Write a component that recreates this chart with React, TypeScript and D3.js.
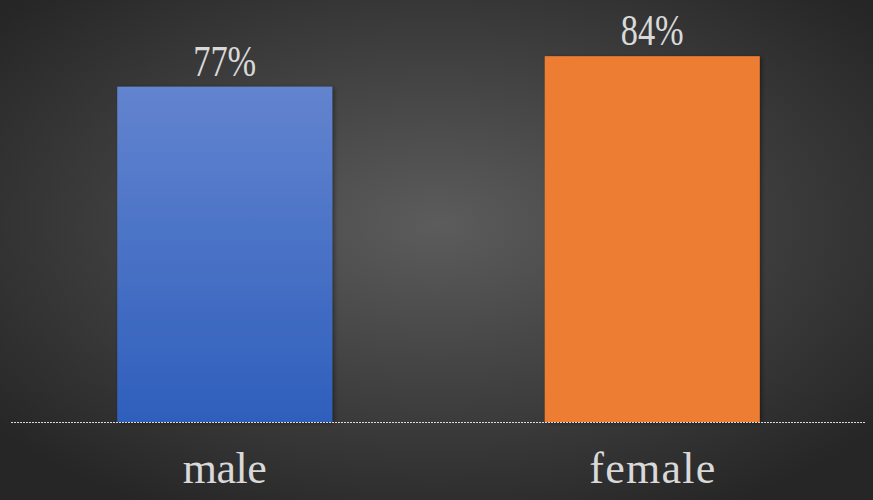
import React, { useRef, useEffect } from "react";
import * as d3 from "d3";

const categories = ["male", "female"];
const values = [0.77, 0.84];
const valueLabels = ["77%", "84%"];

const W = 873;
const H = 500;

const App = () => {
  const svgRef = useRef<SVGSVGElement>(null);

  useEffect(() => {
    const svg = d3.select(svgRef.current);
    svg.selectAll("*").remove();

    const baseY = 422;
    const x = d3
      .scaleBand<string>()
      .domain(categories)
      .range([11, 866])
      .paddingInner(0.497)
      .paddingOuter(0.2485);
    const y = d3.scaleLinear().domain([0, 1]).range([baseY, baseY - 435.5]);

    const defs = svg.append("defs");
    const bg = defs
      .append("radialGradient")
      .attr("id", "bg")
      .attr("cx", "50%")
      .attr("cy", "45%")
      .attr("r", "65%");
    bg.append("stop").attr("offset", "0%").attr("stop-color", "#5c5c5c");
    bg.append("stop").attr("offset", "100%").attr("stop-color", "#262626");

    const blue = defs
      .append("linearGradient")
      .attr("id", "blue")
      .attr("x1", 0)
      .attr("y1", 0)
      .attr("x2", 0)
      .attr("y2", 1);
    blue.append("stop").attr("offset", "0%").attr("stop-color", "#6384cf");
    blue.append("stop").attr("offset", "100%").attr("stop-color", "#2e5fbc");

    const shadow = defs.append("filter").attr("id", "shadow").attr("x", "-10%").attr("y", "-10%").attr("width", "130%").attr("height", "130%");
    shadow
      .append("feDropShadow")
      .attr("dx", 2)
      .attr("dy", 1)
      .attr("stdDeviation", 2)
      .attr("flood-color", "#000")
      .attr("flood-opacity", 0.4);

    svg.append("rect").attr("width", W).attr("height", H).attr("fill", "url(#bg)");

    const fills = ["url(#blue)", "#ed7d31"];

    svg
      .selectAll(".bar")
      .data(categories)
      .enter()
      .append("rect")
      .attr("x", (d) => x(d)!)
      .attr("y", (d, i) => y(values[i]))
      .attr("width", x.bandwidth())
      .attr("height", (d, i) => baseY - y(values[i]))
      .attr("fill", (d, i) => fills[i])
      .attr("filter", "url(#shadow)");

    // baseline
    svg
      .append("line")
      .attr("x1", 11)
      .attr("x2", 866)
      .attr("y1", baseY + 0.5)
      .attr("y2", baseY + 0.5)
      .attr("stroke", "#d9d9d9")
      .attr("stroke-width", 1)
      .attr("stroke-dasharray", "2,1");

    // value labels
    svg
      .selectAll(".val")
      .data(categories)
      .enter()
      .append("text")
      .attr("x", (d) => x(d)! + x.bandwidth() / 2)
      .attr("y", (d, i) => y(values[i]) - 11)
      .attr("text-anchor", "middle")
      .attr("textLength", (d, i) => valueLabels[i].length * 21)
      .attr("lengthAdjust", "spacingAndGlyphs")
      .style("font-family", "'Liberation Serif', serif")
      .style("font-size", "45px")
      .style("fill", "#d9d9d9")
      .text((d, i) => valueLabels[i]);

    // category labels
    svg
      .selectAll(".cat")
      .data(categories)
      .enter()
      .append("text")
      .attr("x", (d) => x(d)! + x.bandwidth() / 2)
      .attr("y", 483)
      .attr("text-anchor", "middle")
      .attr("textLength", (d) => d.length * 21)
      .attr("lengthAdjust", "spacing")
      .style("font-family", "'Liberation Serif', serif")
      .style("font-size", "44px")
      .style("fill", "#d9d9d9")
      .text((d) => d);
  }, []);

  return (
    <svg
      ref={svgRef}
      width={W}
      height={H}
      style={{ position: "absolute", left: 0, top: 0, display: "block" }}
    ></svg>
  );
};

export default App;
